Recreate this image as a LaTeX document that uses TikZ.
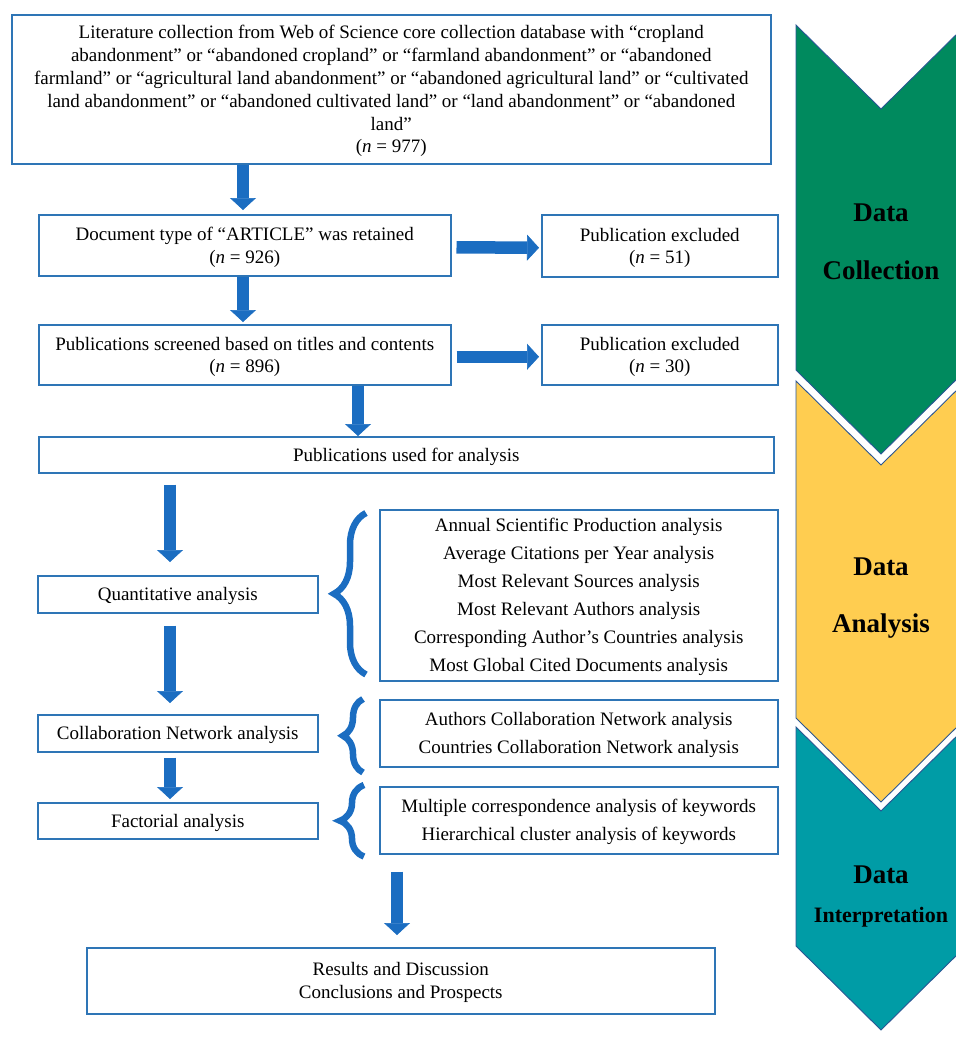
\documentclass[tikz,border=0pt]{standalone}
\usepackage{fontspec}
\setmainfont{Liberation Serif}
\usetikzlibrary{arrows.meta,decorations.pathreplacing}
\definecolor{boxblue}{HTML}{2E75B6}
\definecolor{arrowblue}{HTML}{1B6DC1}
\definecolor{arrowedge}{HTML}{2A5694}
\definecolor{collgreen}{HTML}{008A5E}
\definecolor{anayellow}{HTML}{FFCD50}
\definecolor{intteal}{HTML}{009CA6}
\begin{document}
\begin{tikzpicture}[x=1pt,y=-1pt,
  box/.style={draw=boxblue, line width=1.5pt, anchor=north west, align=center, inner sep=0pt, text depth=-5pt, font=\fontsize{19}{22.5}\selectfont},
  listbox/.style={box, font=\fontsize{19}{28}\selectfont},
  bigarrow/.style={draw=arrowblue, line width=12.5pt, -{Triangle[length=12pt,width=26pt,line width=0.6pt]}},
  curly/.style={draw=arrowblue, line width=6.5pt, decorate, decoration={brace, amplitude=#1}},
  chevron/.style={draw=arrowedge, line width=0.9pt},
  stage/.style={font=\fontsize{27}{27}\bfseries\selectfont}]
\useasboundingbox (0,0) rectangle (956,1037);
\clip (0,0) rectangle (956,1037);
% stages on the right
\pgfmathsetmacro{\d}{84}
\draw[chevron, fill=collgreen] (796,25) -- (881,25+\d) -- (966,25) -- (966,370) -- (881,370+\d) -- (796,370) -- cycle;
\draw[chevron, fill=anayellow] (796,381) -- (881,381+\d) -- (966,381) -- (966,718) -- (881,718+\d) -- (796,718) -- cycle;
\draw[chevron, fill=intteal] (796,727) -- (881,727+\d) -- (966,727) -- (966,946) -- (881,946+\d) -- (796,946) -- cycle;
\node[stage] (dc1) at (881,213) {Data};
\node[stage] (dc2) at (881,270) {Collection};
\node[stage] (da1) at (881,567) {Data};
\node[stage] (da2) at (881,626) {Analysis};
\node[stage] (di1) at (881,875) {Data};
\node[stage, font=\fontsize{22}{22}\bfseries\selectfont] (di2) at (881,917) {Interpretation};
% boxes
\node[box, minimum width=759pt, minimum height=149pt, font=\fontsize{19}{22.8}\selectfont] (lit) at (11,14) {Literature collection from Web of Science core collection database with “cropland\\
abandonment” or “abandoned cropland” or “farmland abandonment” or “abandoned\\
farmland” or “agricultural land abandonment” or “abandoned agricultural land” or “cultivated\\
land abandonment” or “abandoned cultivated land” or “land abandonment” or “abandoned\\
land”\\
(\textit{n} = 977)};
\node[box, minimum width=412pt, minimum height=61pt] (doc) at (38,214) {Document type of “ARTICLE” was retained\\(\textit{n} = 926)};
\node[box, minimum width=236pt, minimum height=62pt] (ex1) at (541,214) {Publication excluded\\(\textit{n} = 51)};
\node[box, minimum width=412pt, minimum height=60pt] (scr) at (38,324) {Publications screened based on titles and contents\\(\textit{n} = 896)};
\node[box, minimum width=236pt, minimum height=60pt] (ex2) at (541,324) {Publication excluded\\(\textit{n} = 30)};
\node[box, minimum width=735pt, minimum height=36pt] (used) at (38,436) {Publications used for analysis};
\node[box, minimum width=280pt, minimum height=37pt] (quant) at (37,575) {Quantitative analysis};
\node[listbox, minimum width=398pt, minimum height=171pt] (list1) at (379,509) {Annual Scientific Production analysis\\
Average Citations per Year analysis\\
Most Relevant Sources analysis\\
Most Relevant Authors analysis\\
Corresponding Author’s Countries analysis\\
Most Global Cited Documents analysis};
\node[box, minimum width=280pt, minimum height=37pt] (collab) at (37,714) {Collaboration Network analysis};
\node[listbox, minimum width=398pt, minimum height=67pt] (list2) at (379,699) {Authors Collaboration Network analysis\\Countries Collaboration Network analysis};
\node[box, minimum width=280pt, minimum height=36pt] (fact) at (37,802) {Factorial analysis};
\node[listbox, minimum width=398pt, minimum height=67pt] (list3) at (379,786) {Multiple correspondence analysis of keywords\\Hierarchical cluster analysis of keywords};
\node[box, minimum width=628pt, minimum height=66pt, font=\fontsize{19}{23}\selectfont] (res) at (86,947) {Results and Discussion\\Conclusions and Prospects};
% arrows
\coordinate (colA) at (243,0);
\coordinate (colB) at (358,0);
\coordinate (colC) at (170,0);
\coordinate (colD) at (397,0);
\draw[bigarrow, shorten >=4pt] (lit.south -| colA) -- (doc.north -| colA);
\draw[bigarrow, shorten >=2pt] (doc.south -| colA) -- (scr.north -| colA);
\draw[bigarrow] (scr.south -| colB) -- (used.north -| colB);
\draw[bigarrow, shorten <=5pt, shorten >=2pt] ([yshift=-2pt]doc.east) -- ([yshift=-2pt]ex1.west);
\draw[bigarrow, shorten <=5pt, shorten >=2pt] ([yshift=-2pt]scr.east) -- ([yshift=-2pt]ex2.west);
\draw[bigarrow, shorten <=11pt, shorten >=13pt] (used.south -| colC) -- (quant.north -| colC);
\draw[bigarrow, shorten <=12pt, shorten >=11pt] (quant.south -| colC) -- (collab.north -| colC);
\draw[bigarrow, shorten <=5pt, shorten >=3pt] (collab.south -| colC) -- (fact.north -| colC);
\draw[bigarrow, shorten <=17pt, shorten >=12pt] (list3.south -| colD) -- (res.north -| colD);
% braces
\draw[curly=32pt] ([shift={(-13,-7)}]list1.south west) -- ([shift={(-13,4)}]list1.north west);
\draw[curly=20pt] ([shift={(-16,5)}]list2.south west) -- ([shift={(-16,0)}]list2.north west);
\draw[curly=24pt] ([shift={(-15,2)}]list3.south west) -- ([shift={(-15,-1)}]list3.north west);
\end{tikzpicture}
\end{document}
